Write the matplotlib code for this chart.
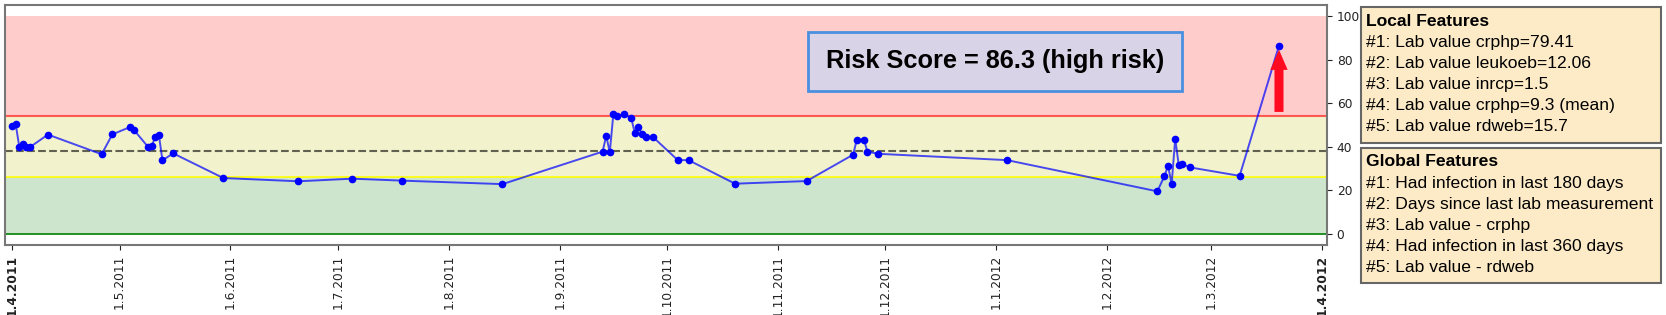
import numpy as np
import pandas as pd
import matplotlib
matplotlib.use("Agg")
import matplotlib.pyplot as plt
import matplotlib.dates as mdates
from matplotlib.patches import Rectangle

# risk score history
dates = pd.to_datetime([
    "2011-04-01", "2011-04-02", "2011-04-03", "2011-04-04", "2011-04-05", "2011-04-06",
    "2011-04-11", "2011-04-26", "2011-04-29", "2011-05-04", "2011-05-05", "2011-05-09",
    "2011-05-10", "2011-05-11", "2011-05-12", "2011-05-13", "2011-05-16", "2011-05-30",
    "2011-06-20", "2011-07-05", "2011-07-19", "2011-08-16", "2011-09-13", "2011-09-14",
    "2011-09-15", "2011-09-16", "2011-09-17", "2011-09-19", "2011-09-21", "2011-09-22",
    "2011-09-23", "2011-09-24", "2011-09-25", "2011-09-27", "2011-10-04", "2011-10-07",
    "2011-10-20", "2011-11-09", "2011-11-22", "2011-11-23", "2011-11-25", "2011-11-26",
    "2011-11-29", "2012-01-04", "2012-02-15", "2012-02-17", "2012-02-18", "2012-02-19",
    "2012-02-20", "2012-02-21", "2012-02-22", "2012-02-24", "2012-03-09", "2012-03-20",
])
scores = [
    49.5, 50.3, 39.9, 41.1, 39.9, 39.9,
    45.6, 36.6, 45.7, 49.1, 47.8, 39.9,
    40.4, 44.5, 45.4, 33.8, 37.0, 25.7,
    24.2, 25.4, 24.5, 22.9, 37.8, 45.1,
    37.5, 55.0, 54.1, 54.9, 53.2, 46.2,
    49.2, 45.7, 44.6, 44.6, 33.9, 33.9,
    23.1, 24.3, 36.4, 43.1, 43.3, 37.8,
    36.8, 33.9, 19.6, 26.6, 31.3, 22.9,
    43.7, 31.5, 32.1, 30.6, 26.7, 86.3,
]

high_thr = 54
low_thr = 26
mean_score = 38
risk_text = "Risk Score = 86.3 (high risk)"

local_title = "Local Features"
local_feats = [
    "#1: Lab value crphp=79.41",
    "#2: Lab value leukoeb=12.06",
    "#3: Lab value inrcp=1.5",
    "#4: Lab value crphp=9.3 (mean)",
    "#5: Lab value rdweb=15.7",
]
global_title = "Global Features"
global_feats = [
    "#1: Had infection in last 180 days",
    "#2: Days since last lab measurement",
    "#3: Lab value - crphp",
    "#4: Had infection in last 360 days",
    "#5: Lab value - rdweb",
]

W, H = 1666, 315
fig = plt.figure(figsize=(W / 100, H / 100), dpi=100)
ax = fig.add_axes([5 / W, 70 / H, 1322 / W, 240 / H])

# risk bands
ax.axhspan(high_thr, 100, color="red", alpha=0.2, lw=0)
ax.axhspan(low_thr, high_thr, color="y", alpha=0.2, lw=0)
ax.axhspan(0, low_thr, color="g", alpha=0.2, lw=0)
ax.axhline(high_thr, color="red", alpha=0.6, lw=1.5)
ax.axhline(low_thr, color="yellow", lw=1.2)
ax.axhline(0, color="g", lw=1.2)
ax.axhline(mean_score, color="k", ls="--", alpha=0.6, lw=1.5)

ax.plot(dates, scores, color="b", alpha=0.7, lw=1.4)
ax.plot(dates, scores, "o", color="b", ms=4.5)

# arrow pointing up at last score
ax.annotate("", xy=(dates[-1], 84.5), xytext=(dates[-1], 56),
            arrowprops=dict(arrowstyle="simple,head_length=1.45,head_width=1.25,tail_width=0.65",
                            color="#ff0a1e", shrinkA=0, shrinkB=0, lw=0))

ax.text(0.749, 0.765, risk_text, transform=ax.transAxes, ha="center", va="center",
        fontsize=18.3, fontweight="bold", family="Liberation Sans",
        bbox=dict(boxstyle="square,pad=0.7", fc="#d9d3e8", ec="#4a8fe0", lw=2))

ax.set_ylim(-5, 105)
ax.set_xlim(pd.Timestamp("2011-03-30"), pd.Timestamp("2012-04-02 10:00"))
ax.yaxis.tick_right()
ax.set_yticks([0, 20, 40, 60, 80, 100])
ticks = pd.date_range("2011-04-01", "2012-04-01", freq="MS")
ax.set_xticks(ticks)
ax.set_xticklabels([f"{t.day}.{t.month}.{t.year}" for t in ticks], rotation=90)
ax.tick_params(labelsize=8.8, colors="#222222")
ax.get_xticklabels()[0].set_fontweight("bold")
ax.get_xticklabels()[-1].set_fontweight("bold")
for s in ax.spines.values():
    s.set_color("#777777")
    s.set_linewidth(1.5)

# feature boxes on the right
def feature_box(top, bottom, title, feats):
    fig.add_artist(Rectangle((1361 / W, 1 - bottom / H), 300 / W, (bottom - top) / H,
                             transform=fig.transFigure, fc="#fdebc8", ec="#666666", lw=1.5))
    y = top + 14
    fig.text(1366.5 / W, 1 - y / H, title, fontsize=12.6, fontweight="bold",
             family="Liberation Sans", va="center")
    for f in feats:
        y += 21.1
        fig.text(1366.5 / W, 1 - y / H, f, fontsize=12.6, family="Liberation Sans", va="center")

feature_box(7, 143, local_title, local_feats)
feature_box(148, 283, global_title, global_feats)

fig.savefig("out.png", dpi=100)
